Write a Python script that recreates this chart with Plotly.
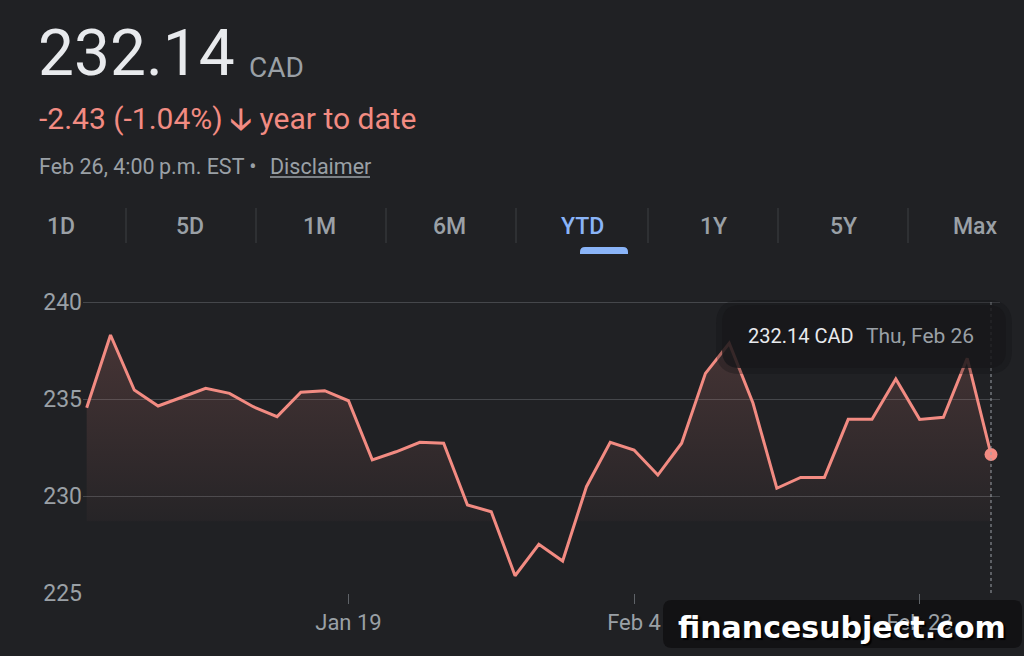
import plotly.graph_objects as go

W, H = 1024, 656

dates = ["Jan 2", "Jan 5", "Jan 6", "Jan 7", "Jan 8", "Jan 9",
         "Jan 12", "Jan 13", "Jan 14", "Jan 15", "Jan 16",
         "Jan 19", "Jan 20", "Jan 21", "Jan 22", "Jan 23",
         "Jan 26", "Jan 27", "Jan 28", "Jan 29", "Jan 30",
         "Feb 2", "Feb 3", "Feb 4", "Feb 5", "Feb 6",
         "Feb 9", "Feb 10", "Feb 11", "Feb 12", "Feb 13",
         "Feb 17", "Feb 18", "Feb 19", "Feb 20",
         "Feb 23", "Feb 24", "Feb 25", "Feb 26"]
prices = [234.55, 238.30, 235.46, 234.64, 235.09, 235.55,
          235.29, 234.60, 234.09, 235.35, 235.43,
          234.91, 231.86, 232.28, 232.77, 232.72,
          229.54, 229.19, 225.89, 227.51, 226.65,
          230.48, 232.77, 232.37, 231.08, 232.72,
          236.32, 237.87, 234.78, 230.40, 230.96,
          230.96, 233.95, 233.95, 236.03,
          233.95, 234.06, 237.10, 232.14]
y_ticks = [225, 230, 235, 240]
x_tick_labels = ["Jan 19", "Feb 4", "Feb 23"]
tabs = ["1D", "5D", "1M", "6M", "YTD", "1Y", "5Y", "Max"]
active_tab = "YTD"

BG = "#202124"
RED = "#f28b82"
GREY = "#9aa0a6"
WHITE = "#e8eaed"
BLUE = "#8ab4f8"
FONT = "Roboto"


def px(x):
    return x / W


def py(y):
    return 1 - y / H


def rrect(x0, y0, x1, y1, r, top_only=False):
    # rounded rectangle path in paper coordinates from pixel values
    if top_only:
        return (f"M {px(x0)},{py(y1)} L {px(x0)},{py(y0 + r)} "
                f"Q {px(x0)},{py(y0)} {px(x0 + r)},{py(y0)} "
                f"L {px(x1 - r)},{py(y0)} Q {px(x1)},{py(y0)} {px(x1)},{py(y0 + r)} "
                f"L {px(x1)},{py(y1)} Z")
    return (f"M {px(x0 + r)},{py(y0)} L {px(x1 - r)},{py(y0)} "
            f"Q {px(x1)},{py(y0)} {px(x1)},{py(y0 + r)} "
            f"L {px(x1)},{py(y1 - r)} Q {px(x1)},{py(y1)} {px(x1 - r)},{py(y1)} "
            f"L {px(x0 + r)},{py(y1)} Q {px(x0)},{py(y1)} {px(x0)},{py(y1 - r)} "
            f"L {px(x0)},{py(y0 + r)} Q {px(x0)},{py(y0)} {px(x0 + r)},{py(y0)} Z")


fig = go.Figure()

# baseline for the gradient fill
fig.add_trace(go.Scatter(x=dates, y=[225] * len(dates), mode="lines",
                         line=dict(width=0, color="rgba(0,0,0,0)"),
                         hoverinfo="skip", showlegend=False))
fig.add_trace(go.Scatter(
    x=dates, y=prices, mode="lines",
    line=dict(color=RED, width=3),
    fill="tonexty",
    fillgradient=dict(type="vertical", start=225, stop=240,
                      colorscale=[[0, "rgba(242,139,130,0)"],
                                  [0.245, "rgba(242,139,130,0)"],
                                  [0.25, "rgba(242,139,130,0.03)"],
                                  [1, "rgba(242,139,130,0.21)"]]),
    hoverinfo="skip", showlegend=False))
fig.add_trace(go.Scatter(x=[dates[-1]], y=[prices[-1]], mode="markers",
                         marker=dict(color=RED, size=13),
                         hoverinfo="skip", showlegend=False))

n = len(dates)
unit = (991 - 86.7) / (n - 1)
x_left, x_right = 83, 1000
xr = [-(86.7 - x_left) / unit, (n - 1) + (x_right - 991) / unit]
y_top_px, y_bot_px = 290, 593
ppu = (593 - 302) / 15
yr = [225, 225 + (y_bot_px - y_top_px) / ppu]

fig.update_layout(
    width=W, height=H,
    margin=dict(l=0, r=0, t=0, b=0),
    paper_bgcolor=BG, plot_bgcolor=BG,
    font=dict(family=FONT, color=GREY),
    xaxis=dict(type="category", domain=[px(x_left), px(x_right)],
               range=xr, showgrid=False, zeroline=False, showline=False,
               tickmode="array", tickvals=x_tick_labels, ticktext=x_tick_labels,
               ticks="outside", ticklen=10, tickcolor="#5f6368", tickwidth=1,
               tickfont=dict(size=22, color=GREY, family=FONT),
               automargin=False, fixedrange=True),
    yaxis=dict(domain=[py(y_bot_px), py(y_top_px)], range=yr,
               tickmode="array", tickvals=y_ticks,
               showgrid=True, gridcolor="#45474b", gridwidth=1,
               zeroline=False, showline=False, ticks="",
               tickfont=dict(size=23, color=GREY, family=FONT),
               automargin=False, fixedrange=True),
    showlegend=False,
)

shapes = []
# dashed crosshair
shapes.append(dict(type="line", xref="x", yref="y", x0=dates[-1], x1=dates[-1],
                   y0=225, y1=240, line=dict(color="#9aa0a6", width=1, dash="dot"),
                   layer="above"))
# tab separators
for sx in [126, 256, 386, 516, 648, 778, 908]:
    shapes.append(dict(type="line", xref="paper", yref="paper",
                       x0=px(sx), x1=px(sx), y0=py(208), y1=py(243),
                       line=dict(color="#3c4043", width=1)))
# YTD underline
shapes.append(dict(type="path", xref="paper", yref="paper",
                   path=rrect(580, 247, 628, 254, 5, top_only=True),
                   fillcolor=BLUE, line=dict(width=0)))
# Disclaimer underline
shapes.append(dict(type="line", xref="paper", yref="paper",
                   x0=px(270), x1=px(370), y0=py(177), y1=py(177),
                   line=dict(color=GREY, width=1.3)))
# tooltip shadow + box
shapes.append(dict(type="path", xref="paper", yref="paper",
                   path=rrect(716, 300, 1012, 374, 24),
                   fillcolor="rgba(18,18,20,0.3)", line=dict(width=0), layer="above"))
shapes.append(dict(type="path", xref="paper", yref="paper",
                   path=rrect(722, 305, 1006, 368, 18),
                   fillcolor="rgba(24,24,26,0.8)", line=dict(width=0), layer="above"))
# watermark box
shapes.append(dict(type="path", xref="paper", yref="paper",
                   path=rrect(663, 600, 1022, 648, 9),
                   fillcolor="#121214", line=dict(width=0), layer="below"))
fig.update_layout(shapes=shapes)

ann = []


def text(x, y, s, size, color, anchor="left", weight=None, **kw):
    f = dict(size=size, color=color, family=kw.pop("family", FONT))
    if weight:
        f["weight"] = weight
    if "shadow" in kw:
        f["shadow"] = kw.pop("shadow")
    ann.append(dict(x=px(x), y=py(y), xref="paper", yref="paper", text=s,
                    showarrow=False, xanchor=anchor, yanchor="middle",
                    font=f, **kw))


text(36, 53, "232.14", 64, WHITE)
text(247, 67, "CAD", 28, GREY)
text(37, 118, "-2.43 (-1.04%) <b>🡣</b> year to date", 30, RED)
text(37, 166, "Feb 26, 4:00\u2009p.m. EST •", 21.5, GREY)
text(268, 166, "Disclaimer", 21.5, GREY)

tab_x = [61, 190, 319, 449, 582, 713, 843, 975]
for t, tx in zip(tabs, tab_x):
    text(tx, 227, t, 23, BLUE if t == active_tab else GREY, anchor="center", weight=500)

text(746, 336, "232.14 CAD", 20, WHITE)
text(864, 336, "Thu, Feb 26", 21, GREY)

text(842, 627, "financesubject.com", 30, "#ffffff", anchor="center",
     weight="bold", family="DejaVu Sans", shadow="2px 2px 1px #000000")

fig.update_layout(annotations=ann)

fig.write_html("out.html")
